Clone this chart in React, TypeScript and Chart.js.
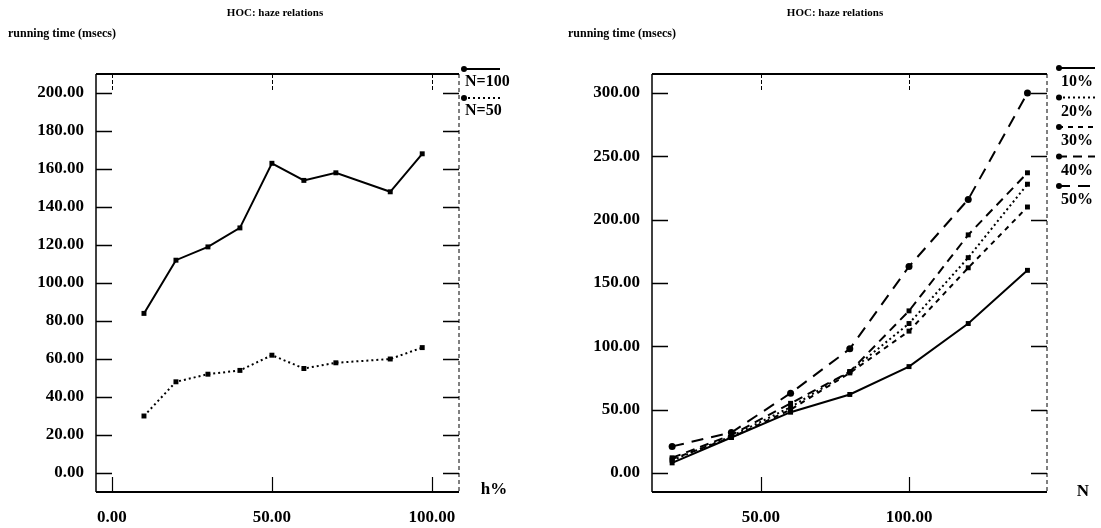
import React, { useEffect, useRef } from "react";
import { Chart, registerables } from "chart.js";

Chart.register(...registerables);

// ---------- data ----------
const chartTitle = "HOC: haze relations";
const yAxisTitle = "running time (msecs)";

// left chart: running time vs haze percentage
const hazePct = [10, 20, 30, 40, 50, 60, 70, 87, 97];
const timeN100 = [84, 112, 119, 129, 163, 154, 158, 148, 168];
const timeN50 = [30, 48, 52, 54, 62, 55, 58, 60, 66];
const leftLabels = ["N=100", "N=50"];
const leftXTicks = [0, 50, 100];
const leftYTicks = [0, 20, 40, 60, 80, 100, 120, 140, 160, 180, 200];
const leftXName = "h%";

// right chart: running time vs N
const sizeN = [20, 40, 60, 80, 100, 120, 140];
const time10 = [8, 28, 48, 62, 84, 118, 160];
const time20 = [10, 29, 52, 80, 118, 170, 228];
const time30 = [11, 28, 50, 79, 112, 162, 210];
const time40 = [12, 30, 55, 80, 128, 188, 237];
const time50 = [21, 32, 63, 98, 163, 216, 300];
const rightLabels = ["10%", "20%", "30%", "40%", "50%"];
const rightXTicks = [50, 100];
const rightYTicks = [0, 50, 100, 150, 200, 250, 300];
const rightXName = "N";

// ---------- styles / layout ----------
const FONT = "'Liberation Serif', 'DejaVu Serif', serif";
const H = 528;

type Series = { label: string; data: number[]; dash: number[]; point: string };
type Spec = {
  width: number;
  offsetX: number;
  xs: number[];
  series: Series[];
  xRange: [number, number];
  yRange: [number, number];
  xTicks: number[];
  yTicks: number[];
  xName: string;
  area: { left: number; right: number; top: number; bottom: number };
  titleX: number;
  yTitleX: number;
  legend: { x: number; y0: number; step: number; len: number; dx: number; dy: number };
  xNamePos: [number, number];
};

const leftSpec: Spec = {
  width: 550,
  offsetX: 0,
  xs: hazePct,
  series: [
    { label: leftLabels[0], data: timeN100, dash: [], point: "rect" },
    { label: leftLabels[1], data: timeN50, dash: [2, 3], point: "rect" },
  ],
  xRange: [-5, 108.5],
  yRange: [-10, 210],
  xTicks: leftXTicks,
  yTicks: leftYTicks,
  xName: leftXName,
  area: { left: 96, right: 459, top: 74, bottom: 492 },
  titleX: 275,
  yTitleX: 8,
  legend: { x: 463, y0: 69, step: 29, len: 37, dx: 2, dy: 13 },
  xNamePos: [494, 490],
};

const rightSpec: Spec = {
  width: 551,
  offsetX: 550,
  xs: sizeN,
  series: [
    { label: rightLabels[0], data: time10, dash: [], point: "rect" },
    { label: rightLabels[1], data: time20, dash: [2, 3], point: "rect" },
    { label: rightLabels[2], data: time30, dash: [5, 5], point: "rect" },
    { label: rightLabels[3], data: time40, dash: [9, 6], point: "rect" },
    { label: rightLabels[4], data: time50, dash: [12, 8], point: "circle" },
  ],
  xRange: [13.2, 146.6],
  yRange: [-15, 315],
  xTicks: rightXTicks,
  yTicks: rightYTicks,
  xName: rightXName,
  area: { left: 102, right: 497, top: 74, bottom: 492 },
  titleX: 285,
  yTitleX: 18,
  legend: { x: 508, y0: 68, step: 29.5, len: 37, dx: 3, dy: 14 },
  xNamePos: [533, 492],
};

function makeFramePlugin(spec: Spec) {
  return {
    id: "frame" + spec.offsetX,
    beforeDatasetsDraw(chart: any) {
      const ctx = chart.ctx as CanvasRenderingContext2D;
      const { left, right, top, bottom } = chart.chartArea;
      const xs = chart.scales.x;
      const ys = chart.scales.y;
      ctx.save();
      ctx.strokeStyle = "#000";
      // left border
      ctx.lineWidth = 1.5;
      ctx.setLineDash([]);
      ctx.beginPath();
      ctx.moveTo(left, top);
      ctx.lineTo(left, bottom);
      ctx.stroke();
      // bottom & top borders
      ctx.lineWidth = 2;
      ctx.beginPath();
      ctx.moveTo(left, bottom);
      ctx.lineTo(right, bottom);
      ctx.moveTo(left, top);
      ctx.lineTo(right, top);
      ctx.stroke();
      // right border (dashed)
      ctx.lineWidth = 1;
      ctx.setLineDash([4, 3]);
      ctx.beginPath();
      ctx.moveTo(right, top);
      ctx.lineTo(right, bottom);
      ctx.stroke();
      ctx.setLineDash([]);
      // y ticks (inward, both sides)
      ctx.lineWidth = 1.5;
      for (const v of spec.yTicks) {
        const y = Math.round(ys.getPixelForValue(v)) + 0.5;
        ctx.beginPath();
        ctx.moveTo(left, y);
        ctx.lineTo(left + 16, y);
        ctx.moveTo(right - 16, y);
        ctx.lineTo(right, y);
        ctx.stroke();
      }
      // x ticks (inward, bottom and top)
      for (const v of spec.xTicks) {
        const x = Math.round(xs.getPixelForValue(v)) + 0.5;
        ctx.lineWidth = 1.2;
        ctx.beginPath();
        ctx.moveTo(x, bottom);
        ctx.lineTo(x, bottom - 15);
        ctx.stroke();
        ctx.lineWidth = 1;
        ctx.setLineDash([4, 2]);
        ctx.beginPath();
        ctx.moveTo(x, top);
        ctx.lineTo(x, top + 17);
        ctx.stroke();
        ctx.setLineDash([]);
      }
      ctx.restore();
    },
    afterDraw(chart: any) {
      const ctx = chart.ctx as CanvasRenderingContext2D;
      const { left, bottom } = chart.chartArea;
      const xs = chart.scales.x;
      const ys = chart.scales.y;
      ctx.save();
      ctx.fillStyle = "#000";
      ctx.strokeStyle = "#000";
      // titles
      ctx.font = `bold 11px ${FONT}`;
      ctx.textAlign = "center";
      ctx.textBaseline = "middle";
      ctx.fillText(chartTitle, spec.titleX, 13);
      ctx.font = `bold 12px ${FONT}`;
      ctx.textAlign = "left";
      ctx.fillText(yAxisTitle, spec.yTitleX, 34);
      // tick labels
      ctx.font = `bold 17px ${FONT}`;
      ctx.textAlign = "right";
      for (const v of spec.yTicks) {
        ctx.fillText(v.toFixed(2), left - 12, ys.getPixelForValue(v));
      }
      ctx.textAlign = "center";
      for (const v of spec.xTicks) {
        ctx.fillText(v.toFixed(2), xs.getPixelForValue(v), bottom + 26);
      }
      // x axis name
      ctx.fillText(spec.xName, spec.xNamePos[0], spec.xNamePos[1]);
      // legend
      const lg = spec.legend;
      spec.series.forEach((s, i) => {
        const y = lg.y0 + i * lg.step;
        ctx.lineWidth = 1.8;
        ctx.setLineDash(s.dash);
        ctx.beginPath();
        ctx.moveTo(lg.x, y);
        ctx.lineTo(lg.x + lg.len, y);
        ctx.stroke();
        ctx.setLineDash([]);
        ctx.beginPath();
        ctx.arc(lg.x + 1, y, 3, 0, Math.PI * 2);
        ctx.fill();
        ctx.textAlign = "left";
        ctx.font = `bold 16px ${FONT}`;
        ctx.fillText(s.label, lg.x + lg.dx, y + lg.dy);
      });
      ctx.restore();
    },
  };
}

function Panel({ spec }: { spec: Spec }) {
  const ref = useRef<HTMLCanvasElement | null>(null);
  useEffect(() => {
    if (!ref.current) return;
    const a = spec.area;
    const chart = new Chart(ref.current, {
      type: "line",
      data: {
        datasets: spec.series.map((s) => ({
          label: s.label,
          data: spec.xs.map((x, i) => ({ x, y: s.data[i] })),
          borderColor: "#000",
          backgroundColor: "#000",
          borderWidth: 2,
          borderDash: s.dash,
          pointStyle: s.point as any,
          pointRadius: 3.5,
          pointBorderWidth: 0,
          tension: 0,
          fill: false,
        })),
      },
      options: {
        animation: false,
        responsive: false,
        devicePixelRatio: 1,
        layout: {
          padding: { left: a.left, right: spec.width - a.right, top: a.top, bottom: H - a.bottom },
        },
        plugins: { legend: { display: false }, title: { display: false }, tooltip: { enabled: false } },
        scales: {
          x: { type: "linear", min: spec.xRange[0], max: spec.xRange[1], display: false },
          y: { type: "linear", min: spec.yRange[0], max: spec.yRange[1], display: false },
        },
      },
      plugins: [makeFramePlugin(spec)],
    });
    return () => chart.destroy();
  }, [spec]);
  return (
    <canvas
      ref={ref}
      width={spec.width}
      height={H}
      style={{ position: "absolute", left: spec.offsetX, top: 0, width: spec.width, height: H }}
    />
  );
}

export default function App() {
  return (
    <div style={{ position: "fixed", left: 0, top: 0, width: 1101, height: H, background: "#fff" }}>
      <Panel spec={leftSpec} />
      <Panel spec={rightSpec} />
    </div>
  );
}
